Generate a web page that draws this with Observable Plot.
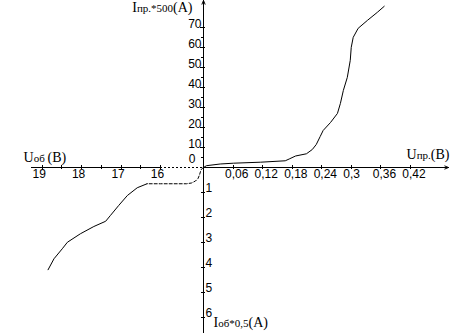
<!DOCTYPE html>
<html><head><meta charset="utf-8">
<script src="https://cdn.jsdelivr.net/npm/d3@7"></script>
<script src="https://cdn.jsdelivr.net/npm/@observablehq/plot@0.6"></script>
<style>body{margin:0;background:#fff}#chart svg{display:block}</style>
</head><body><div id="chart"></div>
<script>
// Forward branch: Uпр (V) vs Iпр*500 (A)
const fwdU = [0, 0.006, 0.034, 0.061, 0.116, 0.166, 0.174, 0.187, 0.209, 0.221, 0.229, 0.237, 0.243, 0.258, 0.272, 0.278, 0.284, 0.292, 0.298, 0.300, 0.304, 0.314, 0.333, 0.353, 0.367];
const fwdI = [0, 0.9, 1.75, 2.15, 2.65, 3.35, 4.25, 5.75, 6.85, 9, 11.5, 15.5, 18.5, 22.5, 27, 32, 38.5, 45, 53.5, 60, 65, 69.5, 73.5, 77.5, 80.5];
// Reverse branch, dashed (schematic) part: Uоб (V) vs Iоб*0,5 (A)
const dashU = [0, 0.74, 1.12, 1.49, 2.05, 2.98, 4.47, 6.33, 16, 16.34];
const dashI = [0, 0.06, 0.16, 0.30, 0.44, 0.54, 0.62, 0.65, 0.65, 0.65];
// Reverse branch, measured part
const revU = [16.34, 16.59, 16.84, 17.06, 17.27, 17.39, 17.69, 18.03, 18.36, 18.49, 18.70, 18.85];
const revI = [0.65, 0.81, 1.12, 1.52, 1.92, 2.15, 2.36, 2.65, 2.99, 3.25, 3.65, 4.09];

// Ticks
const xPosTicks = [0.06, 0.12, 0.18, 0.24, 0.3, 0.36, 0.42];
const xNegTicks = [16, 17, 18, 19];
const xNegMinor = [16.5, 17.5, 18.5];
const yPosTicks = [10, 20, 30, 40, 50, 60, 70];
const yPosMinor = [5, 15, 25, 35, 45, 55, 65];
const yNegTicks = [1, 2, 3, 4, 5, 6];

// Axis titles
const titleUob = "Uоб (В)";
const titleUpr = "Uпр.(В)";
const titleIpr = "Iпр.*500(A)";
const titleIob = "Iоб*0,5(A)";

const fwd = fwdU.map((u, i) => ({u, i: fwdI[i]}));
const dash = dashU.map((u, i) => ({u, i: dashI[i]}));
const rev = revU.map((u, i) => ({u, i: revI[i]}));

const xMin = -19.27, xMax = 0.4975, yMin = -6.64, yMax = 83.4;
const fmt = d => String(d).replace(".", ",");
const tickFont = "Liberation Sans, Arial, sans-serif";
const titleFont = "Liberation Serif, Times New Roman, serif";

const chart = Plot.plot({
  width: 454,
  height: 333,
  margin: 0,
  x: {type: "linear", domain: [xMin, -16, 0, xMax], range: [31, 160, 203, 448], axis: null},
  y: {type: "linear", domain: [yMin, 0, yMax], range: [333, 167, 0], axis: null},
  style: {background: "#fff", color: "#000", fontFamily: tickFont, fontSize: "12px"},
  marks: [
    // x axis
    Plot.ruleY([0], {x1: xMin, x2: -16, stroke: "#000", shapeRendering: "crispEdges"}),
    Plot.ruleY([0], {x1: -16, x2: 0, stroke: "#000", strokeDasharray: "2,2", shapeRendering: "crispEdges"}),
    Plot.arrow([0], {x1: 0, y1: 0, x2: xMax, y2: 0, stroke: "#000", strokeWidth: 1, headLength: 6, headAngle: 45}),
    // y axis
    Plot.arrow([0], {x1: 0, y1: yMin, x2: 0, y2: yMax, stroke: "#000", strokeWidth: 1, headLength: 6, headAngle: 45}),
    // ticks
    Plot.ruleX(xPosTicks, {x: d => d, y1: 0, y2: 0, insetTop: -2, insetBottom: -2, stroke: "#000", shapeRendering: "crispEdges"}),
    Plot.ruleX(xNegTicks.concat(xNegMinor), {x: d => -d, y1: 0, y2: 0, insetTop: -2, insetBottom: -2, stroke: "#000", shapeRendering: "crispEdges"}),
    Plot.ruleY(yPosTicks, {y: d => d, x1: 0, x2: 0, insetLeft: -3, insetRight: -2, stroke: "#000", shapeRendering: "crispEdges"}),
    Plot.ruleY(yPosMinor, {y: d => d, x1: 0, x2: 0, insetLeft: -2, insetRight: -1, stroke: "#000", shapeRendering: "crispEdges"}),
    Plot.ruleY(yNegTicks, {y: d => -d, x1: 0, x2: 0, insetLeft: -2, insetRight: -2, stroke: "#000", shapeRendering: "crispEdges"}),
    // tick labels
    Plot.text(yPosTicks, {x: 0, y: d => d, text: d => String(d), textAnchor: "end", dx: -2, dy: -3}),
    Plot.text([0], {x: 0, y: 0, text: d => String(d), textAnchor: "end", dx: -8, dy: -8.5}),
    Plot.text(yNegTicks, {x: 0, y: d => -d, text: d => String(d), textAnchor: "start", dx: 2, dy: -4}),
    Plot.text(xPosTicks, {x: d => d, y: 0, text: fmt, textAnchor: "start", dx: -8, dy: 7}),
    Plot.text(xNegTicks, {x: d => -d, y: 0, text: d => String(d), dx: -3, dy: 7}),
    // axis titles
    Plot.text([titleUob], {x: xMin, y: 0, text: d => d, textAnchor: "start", dx: -8, dy: -10, fontFamily: titleFont, fontSize: 14, className: "ttl"}),
    Plot.text([titleUpr], {x: xMax, y: 0, text: d => d, textAnchor: "end", dx: 1, dy: -13, fontFamily: titleFont, fontSize: 14, className: "ttl"}),
    Plot.text([titleIpr], {x: 0, y: yMax, text: d => d, textAnchor: "end", dx: -11, dy: 7, fontFamily: titleFont, fontSize: 14, className: "ttl"}),
    Plot.text([titleIob], {x: 0, y: -6, text: d => d, textAnchor: "start", dx: 10, dy: 5, fontFamily: titleFont, fontSize: 14, className: "ttl"}),
    // curves
    Plot.line(fwd, {x: "u", y: "i", stroke: "#000", strokeWidth: 1}),
    Plot.line(dash, {x: d => -d.u, y: d => -d.i, stroke: "#000", strokeWidth: 1, strokeDasharray: "3,2"}),
    Plot.line(rev, {x: d => -d.u, y: d => -d.i, stroke: "#000", strokeWidth: 1})
  ]
});

// Render the index part of each axis title (e.g. "об", "пр.*500") in a smaller size
d3.select(chart).selectAll("g.ttl text").each(function() {
  const t = this.textContent;
  const m = t.match(/^(\S)(.*?)(\(.\))$/u);
  if (!m) return;
  const el = d3.select(this).text(null).style("font-weight", "normal");
  el.append("tspan").text(m[1]);
  el.append("tspan").attr("font-size", 11).text(m[2]);
  el.append("tspan").text(m[3]);
});

document.getElementById("chart").appendChild(chart);
</script>
</body></html>
